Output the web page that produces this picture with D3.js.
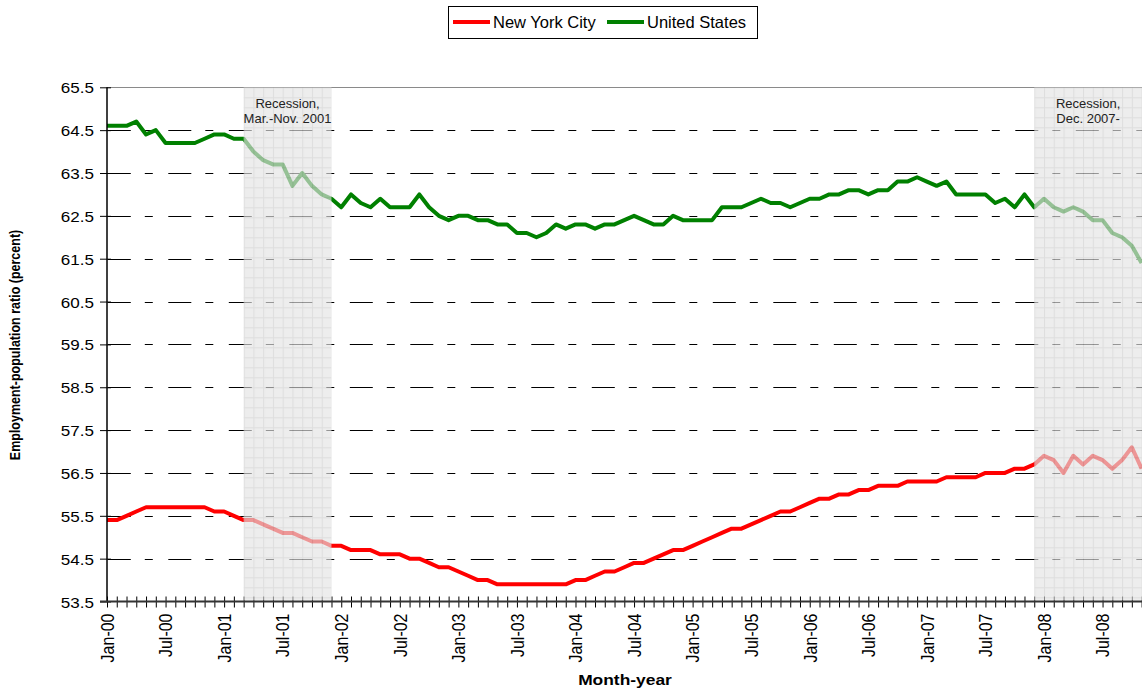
<!DOCTYPE html>
<html>
<head>
<meta charset="utf-8">
<script src="https://cdn.jsdelivr.net/npm/d3@7"></script>
<style>
body { margin: 0; background: #fff; }
text { font-family: Arial, "Liberation Sans", sans-serif; }
</style>
</head>
<body>
<script>

const W = 1142, H = 690

// monthly employment-population ratio, Jan-00 .. Nov-08
const nyc = [
    55.4, 55.4, 55.5, 55.6, 55.7, 55.7, 55.7, 55.7, 55.7, 55.7, 55.7, 55.6, // 2000
    55.6, 55.5, 55.4, 55.4, 55.3, 55.2, 55.1, 55.1, 55.0, 54.9, 54.9, 54.8, // 2001
    54.8, 54.7, 54.7, 54.7, 54.6, 54.6, 54.6, 54.5, 54.5, 54.4, 54.3, 54.3, // 2002
    54.2, 54.1, 54.0, 54.0, 53.9, 53.9, 53.9, 53.9, 53.9, 53.9, 53.9, 53.9, // 2003
    54.0, 54.0, 54.1, 54.2, 54.2, 54.3, 54.4, 54.4, 54.5, 54.6, 54.7, 54.7, // 2004
    54.8, 54.9, 55.0, 55.1, 55.2, 55.2, 55.3, 55.4, 55.5, 55.6, 55.6, 55.7, // 2005
    55.8, 55.9, 55.9, 56.0, 56.0, 56.1, 56.1, 56.2, 56.2, 56.2, 56.3, 56.3, // 2006
    56.3, 56.3, 56.4, 56.4, 56.4, 56.4, 56.5, 56.5, 56.5, 56.6, 56.6, 56.7, // 2007
    56.9, 56.8, 56.5, 56.9, 56.7, 56.9, 56.8, 56.6, 56.8, 57.1, 56.6        // 2008
]

const us = [
    64.6, 64.6, 64.6, 64.7, 64.4, 64.5, 64.2, 64.2, 64.2, 64.2, 64.3, 64.4,
    64.4, 64.3, 64.3, 64.0, 63.8, 63.7, 63.7, 63.2, 63.5, 63.2, 63.0, 62.9,
    62.7, 63.0, 62.8, 62.7, 62.9, 62.7, 62.7, 62.7, 63.0, 62.7, 62.5, 62.4,
    62.5, 62.5, 62.4, 62.4, 62.3, 62.3, 62.1, 62.1, 62.0, 62.1, 62.3, 62.2,
    62.3, 62.3, 62.2, 62.3, 62.3, 62.4, 62.5, 62.4, 62.3, 62.3, 62.5, 62.4,
    62.4, 62.4, 62.4, 62.7, 62.7, 62.7, 62.8, 62.9, 62.8, 62.8, 62.7, 62.8,
    62.9, 62.9, 63.0, 63.0, 63.1, 63.1, 63.0, 63.1, 63.1, 63.3, 63.3, 63.4,
    63.3, 63.2, 63.3, 63.0, 63.0, 63.0, 63.0, 62.8, 62.9, 62.7, 63.0, 62.7,
    62.9, 62.7, 62.6, 62.7, 62.6, 62.4, 62.4, 62.1, 62.0, 61.8, 61.4
]

const tickLabels = ['Jan-00', 'Jul-00', 'Jan-01', 'Jul-01', 'Jan-02', 'Jul-02', 'Jan-03', 'Jul-03',
    'Jan-04', 'Jul-04', 'Jan-05', 'Jul-05', 'Jan-06', 'Jul-06', 'Jan-07', 'Jul-07', 'Jan-08', 'Jul-08']

const yTicks = [53.5, 54.5, 55.5, 56.5, 57.5, 58.5, 59.5, 60.5, 61.5, 62.5, 63.5, 64.5, 65.5]

// recessions as month indices (0 = Jan-00)
const recessions = [
    { from: 14, to: 23, lines: ['Recession,', 'Mar.-Nov. 2001'] },
    { from: 95, to: 108, lines: ['Recession,', 'Dec. 2007-'] }
]

const series = [
    { name: 'New York City', values: nyc, color: '#ff0000' },
    { name: 'United States', values: us, color: '#008000' }
]

const plotLeft = 107, plotRight = 1142

const x = d3.scaleLinear().domain([0, 106]).range([plotLeft, 1141.6])
const y = d3.scaleLinear().domain([53.5, 65.5]).range([601.5, 87.3])
const step = x(1) - x(0)

const svg = d3.select('body').append('svg')
    .attr('width', W)
    .attr('height', H)

const defs = svg.append('defs')
defs.append('clipPath').attr('id', 'plot')
    .append('rect')
    .attr('x', plotLeft).attr('y', 70)
    .attr('width', plotRight - plotLeft).attr('height', 545)

const pat = defs.append('pattern').attr('id', 'shade')
    .attr('patternUnits', 'userSpaceOnUse')
    .attr('x', x(0)).attr('y', y(65.5))
    .attr('width', step).attr('height', 10)
pat.append('rect').attr('width', step).attr('height', 10).attr('fill', '#e3e3e3')
pat.append('path')
    .attr('d', `M0,0.5H${step}M0.5,0V10`)
    .attr('stroke', '#cdcdcd')
    .attr('stroke-width', 1)

const crisp = v => Math.round(v) + 0.5

// top frame line
svg.append('line')
    .attr('x1', plotLeft).attr('x2', plotRight)
    .attr('y1', crisp(y(65.5))).attr('y2', crisp(y(65.5)))
    .attr('stroke', '#8a8a8a').attr('stroke-width', 1.2)

// dashed gridlines
svg.append('g').selectAll('line')
    .data(yTicks.filter(v => v > 53.5 && v < 65.5))
    .join('line')
        .attr('x1', plotLeft).attr('x2', plotRight)
        .attr('y1', d => crisp(y(d))).attr('y2', d => crisp(y(d)))
        .attr('stroke', '#000')
        .attr('stroke-width', 1)
        .attr('stroke-dasharray', '23,14,8,15.5')
        .attr('stroke-dashoffset', -0.8)

// series lines
const line = d3.line()
    .x((d, i) => x(i))
    .y(d => y(d))

svg.append('g').attr('clip-path', 'url(#plot)')
    .selectAll('path')
    .data(series)
    .join('path')
        .attr('d', d => line(d.values))
        .attr('fill', 'none')
        .attr('stroke', d => d.color)
        .attr('stroke-width', 4)
        .attr('stroke-linejoin', 'round')

// x axis: a cross tick every month
const xAxis = svg.append('g')
    .attr('transform', `translate(0,${y(53.5)})`)
    .call(d3.axisBottom(x).tickValues(d3.range(0, 107)).tickSizeInner(6).tickSizeOuter(0).tickFormat(''))
xAxis.select('.domain').remove()
xAxis.selectAll('.tick line')
    .attr('y1', -5).attr('y2', 6)
    .attr('stroke', '#000')

const xLabels = svg.append('g')
    .attr('transform', `translate(0,${y(53.5)})`)
    .call(d3.axisBottom(x).tickValues(d3.range(0, 107, 6)).tickSize(0)
        .tickFormat((d, i) => tickLabels[i]))
xLabels.select('.domain').remove()
xLabels.selectAll('.tick text')
    .attr('x', 0).attr('y', 0)
    .attr('dy', '0.35em')
    .attr('text-anchor', 'end')
    .attr('transform', 'translate(0,12) scale(1.12,1) rotate(-90)')
    .attr('font-size', 16)
    .attr('font-family', 'Arial, "Liberation Sans", sans-serif')
    .attr('fill', '#000')

// y axis
const yAxis = svg.append('g')
    .attr('transform', `translate(${plotLeft},0)`)
    .call(d3.axisLeft(y).tickValues(yTicks).tickSizeInner(7).tickSizeOuter(0).tickFormat(d3.format('.1f')))
yAxis.select('.domain').remove()
yAxis.selectAll('.tick line').attr('x1', 4).attr('x2', -7).attr('stroke', '#000')
yAxis.selectAll('.tick text')
    .attr('x', -13 / 1.1)
    .attr('dy', '0.36em')
    .attr('transform', 'scale(1.1,1)')
    .attr('font-size', 15.5)
    .attr('font-family', 'Arial, "Liberation Sans", sans-serif')
    .attr('fill', '#000')

svg.append('line')
    .attr('x1', plotLeft).attr('x2', plotLeft)
    .attr('y1', y(65.5)).attr('y2', y(53.5))
    .attr('stroke', '#000').attr('stroke-width', 1.5)

// recession shading laid over the lines
const rec = svg.append('g').attr('clip-path', 'url(#plot)')
rec.selectAll('rect')
    .data(recessions)
    .join('rect')
        .attr('x', d => x(d.from))
        .attr('y', y(65.5))
        .attr('width', d => x(d.to) - x(d.from))
        .attr('height', y(53.5) - y(65.5) - 1)
        .attr('fill', 'url(#shade)')
        .attr('opacity', 0.66)

// x axis line on top
svg.append('line')
    .attr('x1', plotLeft - 7).attr('x2', plotRight)
    .attr('y1', y(53.5)).attr('y2', y(53.5))
    .attr('stroke', '#333').attr('stroke-width', 2)

// recession labels
recessions.forEach(r => {
    const cx = (x(r.from) + Math.min(x(r.to), plotRight)) / 2
    svg.append('text')
        .attr('x', cx)
        .attr('y', 108)
        .attr('text-anchor', 'middle')
        .attr('font-size', 13)
        .attr('fill', '#222')
        .selectAll('tspan')
        .data(r.lines)
        .join('tspan')
            .attr('x', cx)
            .attr('dy', (d, i) => i === 0 ? 0 : 15)
            .text(d => d)
})

// axis titles
svg.append('text')
    .attr('transform', 'translate(625,685) scale(1.16,1)')
    .attr('text-anchor', 'middle')
    .attr('font-size', 15)
    .attr('font-weight', 'bold')
    .text('Month-year')

svg.append('text')
    .attr('transform', 'translate(20,345) scale(1.2,1) rotate(-90)')
    .attr('text-anchor', 'middle')
    .attr('font-size', 12.5)
    .attr('font-weight', 'bold')
    .text('Employment-population ratio (percent)')

// legend
const legend = svg.append('g')
legend.append('rect')
    .attr('x', 448.5).attr('y', 6.5)
    .attr('width', 309).attr('height', 32)
    .attr('fill', '#fff')
    .attr('stroke', '#000').attr('stroke-width', 1)

const legendX = [453, 607]
const items = legend.selectAll('.item')
    .data(series)
    .join('g')
        .attr('class', 'item')
        .attr('transform', (d, i) => `translate(${legendX[i]},22)`)
items.append('line')
    .attr('x1', 0).attr('x2', 37)
    .attr('stroke', d => d.color)
    .attr('stroke-width', 4)
items.append('text')
    .attr('x', 40)
    .attr('dy', '0.36em')
    .attr('font-size', 16.5)
    .text(d => d.name)

</script>
</body>
</html>
